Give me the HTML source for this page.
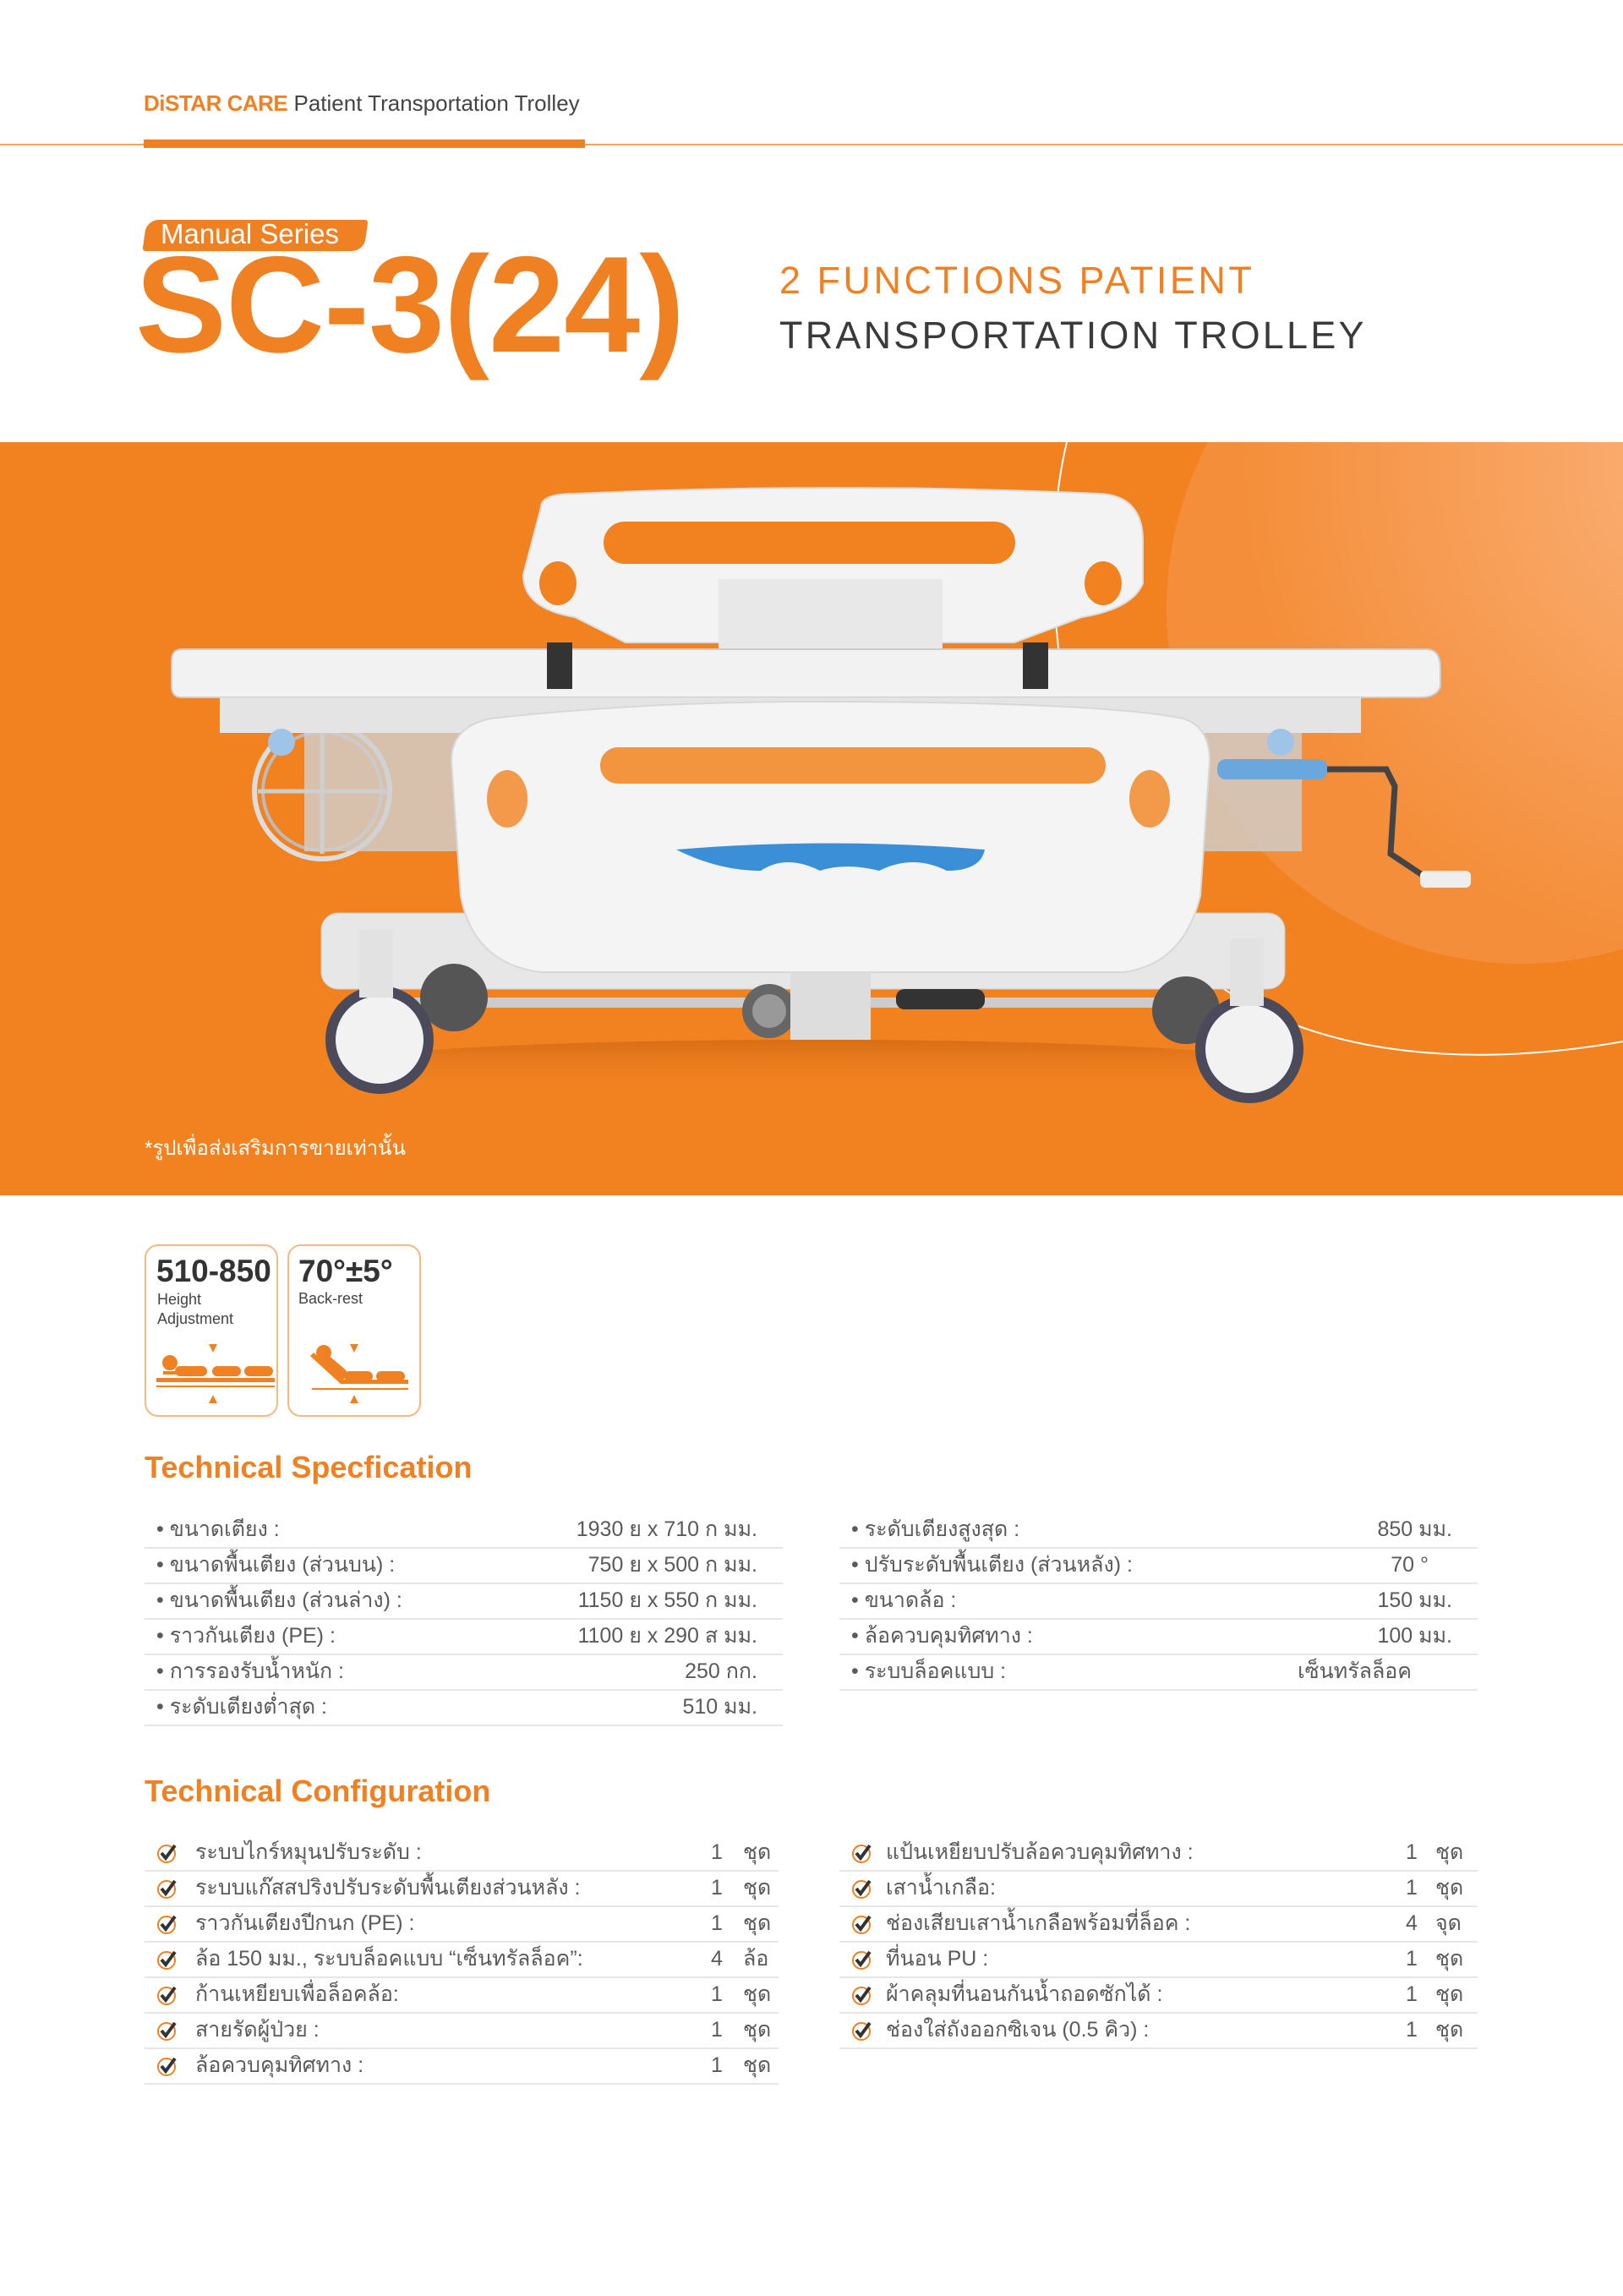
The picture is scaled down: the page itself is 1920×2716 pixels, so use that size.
<!DOCTYPE html>
<html><head><meta charset="utf-8">
<style>
*{margin:0;padding:0;box-sizing:border-box}
body{width:1920px;height:2716px;background:#fff;position:relative;overflow:hidden;font-family:"Liberation Sans",sans-serif}
.abs{position:absolute}
.thai{font-family:"Liberation Sans Narrow","Liberation Sans",sans-serif;color:#5a5a5a;font-size:25px}
.row{position:absolute;height:42px;border-bottom:2px solid #e6e6e6}
.row .l{position:absolute;left:14px;top:2px;white-space:nowrap;line-height:34px}
.row .r{position:absolute;top:2px;white-space:nowrap;text-align:right;line-height:34px}
.chk{position:absolute;left:14px;top:7px;width:26px;height:26px}
</style></head><body>

<div class="abs" style="left:170px;top:107px;font-size:26px;color:#444;white-space:nowrap"><b style="color:#f08122;letter-spacing:-0.5px">DiSTAR CARE</b> Patient Transportation Trolley</div>
<div class="abs" style="left:0;top:170px;width:1920px;height:2px;background:#f4a460"></div>
<div class="abs" style="left:170px;top:165px;width:522px;height:10px;background:#f08122"></div>

<div class="abs" style="left:171px;top:260px;width:262px;height:37px;background:#f08122;border-radius:14px 4px 14px 4px;transform:skewX(-8deg)"></div>
<div class="abs" style="left:190px;top:258px;font-size:33px;color:#fff;white-space:nowrap">Manual Series</div>
<div class="abs" style="left:160px;top:280px;font-size:162px;font-weight:bold;color:#f08122;letter-spacing:-1px;white-space:nowrap;line-height:1">SC-3(24)</div>
<div class="abs" style="left:922px;top:306px;font-size:45px;color:#f08122;letter-spacing:3.5px;white-space:nowrap">2 FUNCTIONS PATIENT</div>
<div class="abs" style="left:922px;top:371px;font-size:45px;color:#3a3a3a;letter-spacing:3.2px;white-space:nowrap">TRANSPORTATION TROLLEY</div>

<!-- Orange band -->
<svg class="abs" style="left:0;top:523px" width="1920" height="891" viewBox="0 523 1920 891">
<defs>
<radialGradient id="g1" cx="0.8" cy="0.3" r="0.7"><stop offset="0" stop-color="#fbb27a"/><stop offset="1" stop-color="#f48e3a"/></radialGradient>
<linearGradient id="sh" x1="0" y1="0" x2="0" y2="1"><stop offset="0" stop-color="#c55f10" stop-opacity=".6"/><stop offset="1" stop-color="#f08122" stop-opacity="0"/></linearGradient>
</defs>
<rect x="0" y="523" width="1920" height="891" fill="#f2821f"/>
<circle cx="1800" cy="720" r="420" fill="url(#g1)"/>
<path d="M1262 523 C1220 700 1260 1000 1420 1150 C1560 1260 1760 1260 1920 1232" fill="none" stroke="#fff" stroke-width="2"/>
<ellipse cx="960" cy="1260" rx="560" ry="30" fill="url(#sh)"/>
<circle cx="381" cy="936" r="80" fill="none" stroke="#ddd" stroke-width="6"/>
<circle cx="381" cy="936" r="70" fill="none" stroke="#bbb" stroke-width="4"/>
<line x1="381" y1="860" x2="381" y2="1010" stroke="#ccc" stroke-width="5"/>
<line x1="305" y1="936" x2="457" y2="936" stroke="#ccc" stroke-width="5"/>
<path d="M640 600 Q640 584 680 584 Q990 570 1300 584 Q1352 586 1352 640 L1352 690 Q1340 720 1280 730 L1200 760 L740 760 L680 730 Q619 720 619 680 Z" fill="#f3f3f3" stroke="#ddd" stroke-width="2"/>
<rect x="714" y="617" width="487" height="50" rx="25" fill="#f2821f"/>
<ellipse cx="660" cy="690" rx="22" ry="26" fill="#f2821f"/>
<ellipse cx="1305" cy="690" rx="22" ry="26" fill="#f2821f"/>
<rect x="850" y="685" width="265" height="90" fill="#e8e8e8"/>
<path d="M215 768 L1690 768 Q1704 770 1704 790 L1704 812 Q1700 825 1680 825 L215 825 Q203 825 203 812 L203 782 Q203 768 215 768Z" fill="#f2f2f2" stroke="#ccc" stroke-width="2"/>
<rect x="647" y="760" width="30" height="55" fill="#333"/>
<rect x="1210" y="760" width="30" height="55" fill="#333"/>
<rect x="260" y="825" width="1350" height="42" fill="#e4e4e4"/>
<rect x="360" y="867" width="1180" height="140" fill="#cfcfcf" opacity=".8"/>
<rect x="1440" y="898" width="130" height="24" rx="10" fill="#6aa7dc"/>
<path d="M1570 910 L1640 910 L1650 930 L1645 1010 L1690 1040" fill="none" stroke="#444" stroke-width="7"/>
<rect x="1680" y="1030" width="60" height="20" rx="6" fill="#eee"/>
<circle cx="333" cy="878" r="16" fill="#9ec4e8"/>
<circle cx="1515" cy="878" r="16" fill="#9ec4e8"/>
<rect x="380" y="1080" width="1140" height="90" rx="20" fill="#e7e7e7" stroke="#ccc"/>
<rect x="430" y="1180" width="1000" height="12" fill="#ccc"/>
<path d="M580 850 Q760 830 960 830 Q1300 830 1400 850 Q1431 860 1431 900 L1420 1060 Q1400 1140 1330 1150 L640 1150 Q560 1140 545 1060 L534 900 Q534 860 580 850Z" fill="#f4f4f4" stroke="#d8d8d8" stroke-width="2"/>
<rect x="710" y="884" width="598" height="43" rx="21" fill="#f2821f" opacity=".85"/>
<ellipse cx="600" cy="945" rx="24" ry="34" fill="#f2821f" opacity=".8"/>
<ellipse cx="1360" cy="945" rx="24" ry="34" fill="#f2821f" opacity=".8"/>
<path d="M800 1005 Q980 990 1165 1005 Q1160 1030 1120 1030 Q1080 1010 1040 1030 Q1000 1020 970 1030 Q930 1010 900 1030 Q850 1030 800 1005Z" fill="#3a8fd6"/>
<circle cx="537" cy="1180" r="40" fill="#555"/>
<circle cx="1403" cy="1195" r="40" fill="#555"/>
<circle cx="910" cy="1196" r="32" fill="#666"/><circle cx="910" cy="1196" r="20" fill="#999"/>
<rect x="935" y="1150" width="95" height="80" fill="#ddd"/>
<rect x="1060" y="1170" width="105" height="24" rx="10" fill="#333"/>
<circle cx="449" cy="1230" r="64" fill="#4a4a5a"/><circle cx="449" cy="1230" r="52" fill="#f2f2f2"/>
<circle cx="1478" cy="1241" r="64" fill="#4a4a5a"/><circle cx="1478" cy="1241" r="52" fill="#f2f2f2"/>
<rect x="425" y="1100" width="40" height="80" fill="#e2e2e2"/>
<rect x="1455" y="1110" width="40" height="80" fill="#e2e2e2"/>
<text x="171" y="1366" font-family="Liberation Sans Narrow, Liberation Sans, sans-serif" font-size="24" fill="#fff">*รูปเพื่อส่งเสริมการขายเท่านั้น</text>
</svg>

<div class="abs" style="left:171px;top:1472px;width:158px;height:204px;border:2px solid #f6b97f;border-radius:16px"></div>
<div class="abs" style="left:340px;top:1472px;width:158px;height:204px;border:2px solid #f6b97f;border-radius:16px"></div>
<div class="abs" style="left:185px;top:1483px;font-size:37px;font-weight:bold;color:#333;font-family:'Liberation Sans Narrow','Liberation Sans',sans-serif">510-850</div>
<div class="abs" style="left:186px;top:1526px;font-size:18px;color:#444;line-height:23px">Height<br>Adjustment</div>
<div class="abs" style="left:353px;top:1483px;font-size:37px;font-weight:bold;color:#333;font-family:'Liberation Sans Narrow','Liberation Sans',sans-serif">70°±5°</div>
<div class="abs" style="left:353px;top:1526px;font-size:18px;color:#444">Back-rest</div>
<svg class="abs" style="left:171px;top:1472px" width="330" height="204">
<g fill="#f08122">
<polygon points="76,118 86,118 81,128"/><polygon points="76,188 86,188 81,178"/>
<circle cx="30" cy="140" r="9"/><rect x="22" y="150" width="16" height="4"/>
<rect x="36" y="144" width="38" height="12" rx="6"/><rect x="80" y="144" width="34" height="12" rx="6"/><rect x="118" y="144" width="34" height="12" rx="6"/>
<rect x="14" y="158" width="140" height="5"/><rect x="14" y="167" width="140" height="2"/>
<polygon points="243,118 253,118 248,128"/><polygon points="243,188 253,188 248,178"/>
<circle cx="212" cy="128" r="9"/>
<rect x="204" y="138" width="38" height="14" rx="7" transform="rotate(40 223 145)"/>
<rect x="236" y="150" width="34" height="12" rx="6"/><rect x="274" y="150" width="34" height="12" rx="6"/>
<polygon points="196,132 200,128 236,160 312,160 312,165 232,165"/>
<rect x="198" y="170" width="114" height="2"/>
</g></svg>

<div class="abs" style="left:171px;top:1715px;font-size:36px;font-weight:bold;color:#f08122;font-family:'Liberation Sans Narrow','Liberation Sans',sans-serif">Technical Specfication</div>

<div class="thai">
<div class="row" style="left:171px;top:1790px;width:755px"><span class="l">• ขนาดเตียง :</span><span class="r" style="right:30px">1930 ย x 710 ก มม.</span></div>
<div class="row" style="left:171px;top:1832px;width:755px"><span class="l">• ขนาดพื้นเตียง (ส่วนบน) :</span><span class="r" style="right:30px">750 ย x 500 ก มม.</span></div>
<div class="row" style="left:171px;top:1874px;width:755px"><span class="l">• ขนาดพื้นเตียง (ส่วนล่าง) :</span><span class="r" style="right:30px">1150 ย x 550 ก มม.</span></div>
<div class="row" style="left:171px;top:1916px;width:755px"><span class="l">• ราวกันเตียง (PE) :</span><span class="r" style="right:30px">1100 ย x 290 ส มม.</span></div>
<div class="row" style="left:171px;top:1958px;width:755px"><span class="l">• การรองรับน้ำหนัก :</span><span class="r" style="right:30px">250 กก.</span></div>
<div class="row" style="left:171px;top:2000px;width:755px"><span class="l">• ระดับเตียงต่ำสุด :</span><span class="r" style="right:30px">510 มม.</span></div>

<div class="row" style="left:993px;top:1790px;width:755px"><span class="l">• ระดับเตียงสูงสุด :</span><span class="r" style="right:30px">850 มม.</span></div>
<div class="row" style="left:993px;top:1832px;width:755px"><span class="l">• ปรับระดับพื้นเตียง (ส่วนหลัง) :</span><span class="r" style="right:58px">70 °</span></div>
<div class="row" style="left:993px;top:1874px;width:755px"><span class="l">• ขนาดล้อ :</span><span class="r" style="right:30px">150 มม.</span></div>
<div class="row" style="left:993px;top:1916px;width:755px"><span class="l">• ล้อควบคุมทิศทาง :</span><span class="r" style="right:30px">100 มม.</span></div>
<div class="row" style="left:993px;top:1958px;width:755px"><span class="l">• ระบบล็อคแบบ :</span><span class="r" style="right:78px">เซ็นทรัลล็อค</span></div>
</div>

<div class="abs" style="left:171px;top:2098px;font-size:36px;font-weight:bold;color:#f08122;font-family:'Liberation Sans Narrow','Liberation Sans',sans-serif">Technical Configuration</div>

<svg width="0" height="0" style="position:absolute"><defs><symbol id="ck" viewBox="0 0 26 26"><circle cx="12" cy="14" r="10" fill="none" stroke="#f08122" stroke-width="2"/><path d="M6 13 L11 19 L22 4" fill="none" stroke="#333" stroke-width="4"/></symbol></defs></svg>

<div class="thai">
<div class="row" style="left:171px;top:2172px;width:750px"><svg class="chk"><use href="#ck"/></svg><span class="l" style="left:60px">ระบบไกร์หมุนปรับระดับ :</span><span class="r" style="left:670px">1</span><span class="r" style="left:708px">ชุด</span></div>
<div class="row" style="left:171px;top:2214px;width:750px"><svg class="chk"><use href="#ck"/></svg><span class="l" style="left:60px">ระบบแก๊สสปริงปรับระดับพื้นเตียงส่วนหลัง :</span><span class="r" style="left:670px">1</span><span class="r" style="left:708px">ชุด</span></div>
<div class="row" style="left:171px;top:2256px;width:750px"><svg class="chk"><use href="#ck"/></svg><span class="l" style="left:60px">ราวกันเตียงปีกนก (PE) :</span><span class="r" style="left:670px">1</span><span class="r" style="left:708px">ชุด</span></div>
<div class="row" style="left:171px;top:2298px;width:750px"><svg class="chk"><use href="#ck"/></svg><span class="l" style="left:60px">ล้อ 150 มม., ระบบล็อคแบบ “เซ็นทรัลล็อค”:</span><span class="r" style="left:670px">4</span><span class="r" style="left:708px">ล้อ</span></div>
<div class="row" style="left:171px;top:2340px;width:750px"><svg class="chk"><use href="#ck"/></svg><span class="l" style="left:60px">ก้านเหยียบเพื่อล็อคล้อ:</span><span class="r" style="left:670px">1</span><span class="r" style="left:708px">ชุด</span></div>
<div class="row" style="left:171px;top:2382px;width:750px"><svg class="chk"><use href="#ck"/></svg><span class="l" style="left:60px">สายรัดผู้ป่วย :</span><span class="r" style="left:670px">1</span><span class="r" style="left:708px">ชุด</span></div>
<div class="row" style="left:171px;top:2424px;width:750px"><svg class="chk"><use href="#ck"/></svg><span class="l" style="left:60px">ล้อควบคุมทิศทาง :</span><span class="r" style="left:670px">1</span><span class="r" style="left:708px">ชุด</span></div>

<div class="row" style="left:993px;top:2172px;width:755px"><svg class="chk"><use href="#ck"/></svg><span class="l" style="left:55px">แป้นเหยียบปรับล้อควบคุมทิศทาง :</span><span class="r" style="left:670px">1</span><span class="r" style="left:705px">ชุด</span></div>
<div class="row" style="left:993px;top:2214px;width:755px"><svg class="chk"><use href="#ck"/></svg><span class="l" style="left:55px">เสาน้ำเกลือ:</span><span class="r" style="left:670px">1</span><span class="r" style="left:705px">ชุด</span></div>
<div class="row" style="left:993px;top:2256px;width:755px"><svg class="chk"><use href="#ck"/></svg><span class="l" style="left:55px">ช่องเสียบเสาน้ำเกลือพร้อมที่ล็อค :</span><span class="r" style="left:670px">4</span><span class="r" style="left:705px">จุด</span></div>
<div class="row" style="left:993px;top:2298px;width:755px"><svg class="chk"><use href="#ck"/></svg><span class="l" style="left:55px">ที่นอน PU :</span><span class="r" style="left:670px">1</span><span class="r" style="left:705px">ชุด</span></div>
<div class="row" style="left:993px;top:2340px;width:755px"><svg class="chk"><use href="#ck"/></svg><span class="l" style="left:55px">ผ้าคลุมที่นอนกันน้ำถอดซักได้ :</span><span class="r" style="left:670px">1</span><span class="r" style="left:705px">ชุด</span></div>
<div class="row" style="left:993px;top:2382px;width:755px"><svg class="chk"><use href="#ck"/></svg><span class="l" style="left:55px">ช่องใส่ถังออกซิเจน (0.5 คิว) :</span><span class="r" style="left:670px">1</span><span class="r" style="left:705px">ชุด</span></div>
</div>

</body></html>
